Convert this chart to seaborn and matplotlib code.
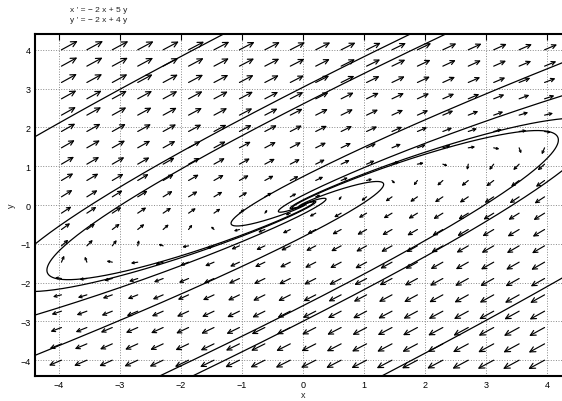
import numpy as np
import matplotlib
matplotlib.use("Agg")
import matplotlib.pyplot as plt
import seaborn as sns

# system  x' = a x + b y ,  y' = c x + d y
a, b, c, d = -2, 5, -2, 4

x_lim = [-4.4, 4.4]
y_lim = [-4.4, 4.4]
x_ticks = [-4, -3, -2, -1, 0, 1, 2, 3, 4]
y_ticks = [-4, -3, -2, -1, 0, 1, 2, 3, 4]

# direction field grid (arrow tails)
field_x = np.linspace(-3.96, 3.96, 20)
field_y = np.linspace(-4.0, 4.0, 20)

# points where the drawn solutions leave the window
exit_x = [-1.31, 1.75, 2.33, 4.4, 4.4, 4.4, -4.4, -4.4, -4.4, -2.34, -1.80, 1.30]
exit_y = [4.4, 4.4, 4.4, 3.76, 2.89, 2.24, -2.23, -2.84, -3.88, -4.4, -4.4, -4.4]


def f(p):
    return np.array([a * p[0] + b * p[1], c * p[0] + d * p[1]])


def solve_back(x0, y0, dt=-0.002, t_max=12):
    p = np.array([x0, y0], dtype=float)
    pts = [p.copy()]
    t = 0
    while abs(t) < t_max:
        k1 = f(p)
        k2 = f(p + dt / 2 * k1)
        k3 = f(p + dt / 2 * k2)
        k4 = f(p + dt * k3)
        p = p + dt / 6 * (k1 + 2 * k2 + 2 * k3 + k4)
        t += dt
        pts.append(p.copy())
        if abs(p[0]) > 4.42 or abs(p[1]) > 4.42:
            break
    pts = np.array(pts)
    return pts[:, 0], pts[:, 1]


sns.set_style("white")
plt.rcParams["font.family"] = ["Liberation Sans", "DejaVu Sans"]

W, H = 562, 402
fig = plt.figure(figsize=(W / 100, H / 100), dpi=100)
ax_l, ax_b, ax_w, ax_h = 34.6, 25.3, 536.8, 341.4
ax = fig.add_axes([ax_l / W, ax_b / H, ax_w / W, ax_h / H])
sx = ax_w / (x_lim[1] - x_lim[0])   # px per unit
sy = ax_h / (y_lim[1] - y_lim[0])

# direction field
for xx in field_x:
    for yy in field_y:
        u, v = f([xx, yy])
        mag = np.hypot(u, v)
        L = 5.57 * mag ** (1 / 3)          # arrow length in px
        su, sv = u * sx, v * sy
        s = np.hypot(su, sv)
        dx = L * su / s / sx
        dy = L * sv / s / sy
        ax.annotate("", xy=(xx + dx, yy + dy), xytext=(xx, yy),
                    arrowprops=dict(arrowstyle="->,head_length=0.5,head_width=0.25",
                                    color="black", lw=0.85, shrinkA=0, shrinkB=0,
                                    mutation_scale=L * 0.72 * 0.6),
                    annotation_clip=False)

# solution curves
for ex, ey in zip(exit_x, exit_y):
    xs, ys = solve_back(ex, ey)
    sns.lineplot(x=xs, y=ys, sort=False, estimator=None, color="black",
                 lw=0.9, ax=ax)

ax.set_xlim(x_lim)
ax.set_ylim(y_lim)
ax.set_xticks(x_ticks)
ax.set_yticks(y_ticks)
ax.grid(True, linestyle=":", color="#888888", linewidth=0.7)
ax.tick_params(direction="in", length=4, width=0.8, top=True, right=True,
               labelsize=6.5, pad=3, colors="black")
for sp in ax.spines.values():
    sp.set_linewidth(1.5)
    sp.set_color("black")
ax.set_xlabel("x", fontsize=6.5, labelpad=1)
ax.set_ylabel("y", fontsize=6.5, labelpad=3)

fig.text(70 / W, 1 - 10 / H, "x ' = − 2 x + 5 y", fontsize=6, va="center")
fig.text(70 / W, 1 - 20 / H, "y ' = − 2 x + 4 y", fontsize=6, va="center")

fig.savefig("out.png", dpi=100)
